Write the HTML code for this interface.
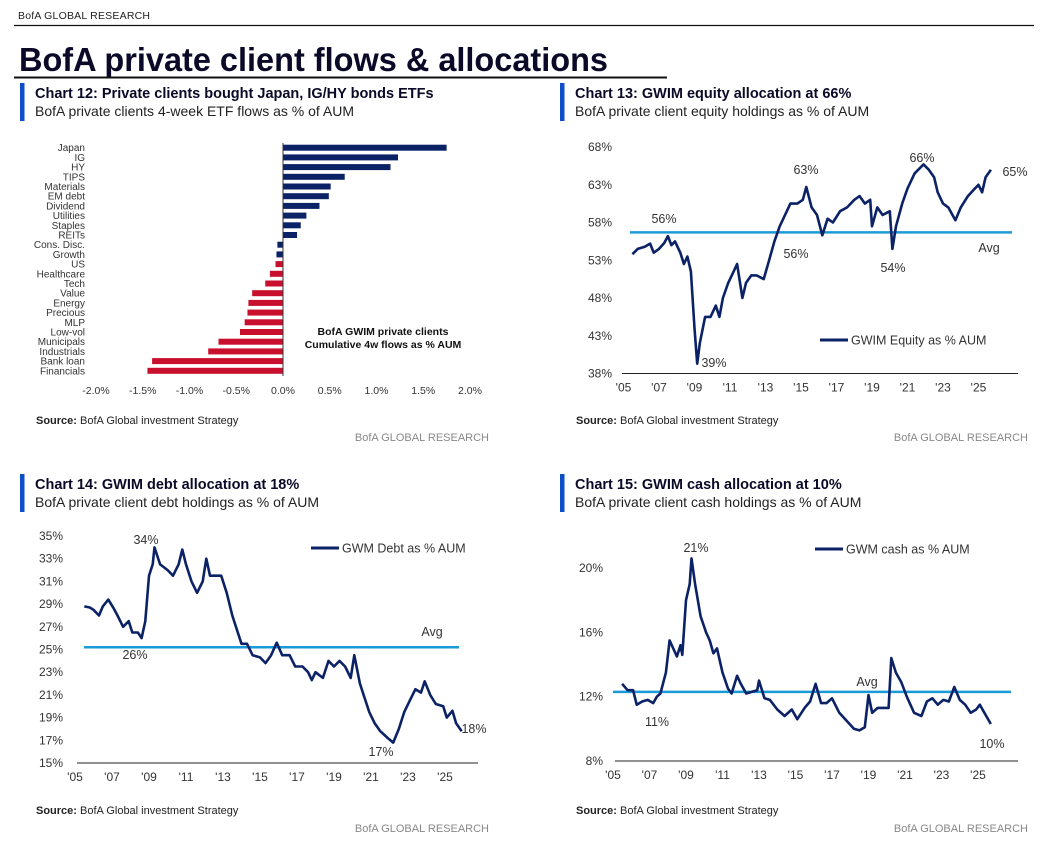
<!DOCTYPE html>
<html><head><meta charset="utf-8"><style>
body{margin:0;background:#fff;width:1048px;height:841px;overflow:hidden}
svg{display:block;font-family:"Liberation Sans",sans-serif}
</style></head><body>
<svg id="page" width="1048" height="841" viewBox="0 0 1048 841">
<text x="18" y="19" font-size="10.5" fill="#222" font-family="Liberation Sans,sans-serif" textLength="132">BofA GLOBAL RESEARCH</text>
<line x1="14" y1="25.5" x2="1034" y2="25.5" stroke="#111" stroke-width="1.2"/>
<text x="19" y="71" font-size="33" font-weight="bold" fill="#0a0a28" textLength="589" lengthAdjust="spacingAndGlyphs">BofA private client flows &amp; allocations</text>
<line x1="14" y1="77.5" x2="667" y2="77.5" stroke="#111" stroke-width="2"/>
<g id="charts"></g>
</svg>
<script>
// ---------- Chart 12 data ----------
const barCategories = ["Japan","IG","HY","TIPS","Materials","EM debt","Dividend","Utilities","Staples","REITs","Cons. Disc.","Growth","US","Healthcare","Tech","Value","Energy","Precious","MLP","Low-vol","Municipals","Industrials","Bank loan","Financials"];
const barValues = [1.75,1.23,1.15,0.66,0.51,0.49,0.39,0.25,0.19,0.15,-0.06,-0.07,-0.08,-0.14,-0.19,-0.33,-0.37,-0.38,-0.41,-0.46,-0.69,-0.80,-1.40,-1.45];
const barTicks = [-2.0,-1.5,-1.0,-0.5,0.0,0.5,1.0,1.5,2.0];
// ---------- Chart 13 data ----------
const eqYears = [2005.5,2005.8,2006.2,2006.5,2006.7,2007.0,2007.3,2007.5,2007.7,2007.9,2008.2,2008.4,2008.6,2008.8,2009.0,2009.15,2009.3,2009.6,2009.9,2010.2,2010.4,2010.6,2010.9,2011.2,2011.4,2011.7,2011.9,2012.2,2012.5,2012.9,2013.2,2013.5,2013.8,2014.0,2014.4,2014.8,2015.1,2015.3,2015.6,2015.9,2016.2,2016.5,2016.8,2017.2,2017.6,2018.0,2018.3,2018.6,2018.9,2019.0,2019.3,2019.6,2020.0,2020.15,2020.35,2020.7,2021.0,2021.4,2021.9,2022.2,2022.5,2022.7,2023.0,2023.3,2023.7,2024.0,2024.4,2024.8,2025.0,2025.2,2025.4,2025.7];
const eqValues = [53.8,54.5,54.8,55.2,54,54.5,55.3,56.2,55,55.5,54,52.5,53.5,51.5,44,39.3,42,45.5,45.5,47,45.5,48,50,51.5,52.5,48,50,51,51,50.5,53,55.5,57.5,58.5,60.5,60.5,61,62.7,60,59,56.3,58.5,58,59.5,60,61,61.5,60.5,61,57.5,60,59,59.5,54.5,57.5,60.5,62.5,64.5,65.7,65,64,62,60.5,60,58.3,60,61.5,62.5,63,62,64,65];
const eqTicks = [38,43,48,53,58,63,68];
const eqAvg = 56.7;
// ---------- Chart 14 data ----------
const debtYears = [2005.5,2005.8,2006.0,2006.3,2006.5,2006.8,2007.1,2007.3,2007.6,2007.9,2008.1,2008.4,2008.6,2008.8,2009.0,2009.2,2009.3,2009.6,2010.0,2010.3,2010.6,2010.8,2011.0,2011.3,2011.6,2011.9,2012.1,2012.3,2012.6,2012.9,2013.2,2013.5,2013.8,2014.0,2014.3,2014.6,2015.0,2015.3,2015.6,2015.9,2016.2,2016.6,2016.9,2017.3,2017.6,2017.8,2018.0,2018.4,2018.7,2019.0,2019.3,2019.6,2019.9,2020.1,2020.4,2020.6,2020.9,2021.2,2021.5,2021.9,2022.2,2022.5,2022.8,2023.1,2023.4,2023.7,2023.9,2024.2,2024.5,2024.9,2025.1,2025.4,2025.6,2025.9];
const debtValues = [28.8,28.7,28.5,28.0,28.8,29.4,28.6,28,27,27.5,26.5,26.5,26,27.5,31.5,32.5,34,32.5,32,31.5,32.5,33.8,32.5,31,30,31,33,31.5,31.5,31.5,30,28,26.5,25.5,25.5,24.5,24.3,23.8,24.5,25.6,24.5,24.5,23.5,23.5,23,22.3,23,22.5,24,23.5,24,23.5,22.5,24.5,22,21,19.5,18.5,17.8,17.2,16.8,18,19.5,20.5,21.5,21.2,22.2,21,20.2,20,19,19.6,18.5,17.8];
const debtTicks = [15,17,19,21,23,25,27,29,31,33,35];
const debtAvg = 25.2;
// ---------- Chart 15 data ----------
const cashYears = [2005.5,2005.8,2006.1,2006.3,2006.6,2006.9,2007.2,2007.4,2007.6,2007.9,2008.1,2008.3,2008.5,2008.7,2008.8,2009.0,2009.2,2009.3,2009.5,2009.8,2010.1,2010.3,2010.5,2010.7,2011.0,2011.3,2011.5,2011.8,2012.0,2012.3,2012.6,2012.9,2013.0,2013.3,2013.6,2014.0,2014.4,2014.8,2015.1,2015.5,2015.8,2016.1,2016.4,2016.7,2017.0,2017.4,2017.8,2018.2,2018.5,2018.8,2019.0,2019.2,2019.5,2019.9,2020.1,2020.25,2020.5,2020.8,2021.1,2021.5,2021.9,2022.2,2022.5,2022.8,2023.1,2023.4,2023.7,2024.0,2024.3,2024.6,2024.9,2025.1,2025.4,2025.7];
const cashValues = [12.8,12.4,12.4,11.5,11.7,11.8,11.6,12,12.2,13.5,15.5,15,14.5,15.2,14.6,18,19,20.6,19,17,16,15.5,14.7,15,13.5,12.5,12.2,13.3,12.8,12.2,12.3,12.4,13.0,11.9,11.8,11.2,10.8,11.2,10.6,11.3,11.7,12.8,11.6,11.6,11.9,11.0,10.5,10.0,9.9,10.1,12.1,11.0,11.3,11.3,11.3,14.4,13.5,12.9,12.0,11.0,10.8,11.7,11.9,11.5,11.8,11.7,12.6,11.8,11.5,11.0,11.2,11.5,10.9,10.3];
const cashTicks = [8,12,16,20];
const cashAvg = 12.3;
const yearTicks = ["'05","'07","'09","'11","'13","'15","'17","'19","'21","'23","'25"];

const NS="http://www.w3.org/2000/svg";
const root=document.getElementById('charts');
const NAVY="#0b2266", RED="#c8102e", SKY="#1a9ad6";
function mk(tag,attrs,parent,txt){const e=document.createElementNS(NS,tag);for(const k in attrs)e.setAttribute(k,attrs[k]);if(txt!==undefined)e.textContent=txt;(parent||root).appendChild(e);return e;}

function header(x,y,title,sub,key){
  const g=mk('g',{});
  
  
  const b=mk('rect',{x:x,y:y,width:4.5,height:38,fill:"#0e4fc7"},g);
  
  
  const t=mk('text',{x:x+15,y:y+15,'font-size':14.5,'font-weight':'bold',fill:'#0a0a28'},g,title);
  
  
  const s=mk('text',{x:x+15,y:y+33,'font-size':14,fill:'#222'},g,sub);
  
  
}
function footer(x,y,rx,ry,key){
  const s=mk('text',{x:x,y:y,'font-size':11,fill:'#222'});
  
  
  mk('tspan',{'font-weight':'bold'},s,'Source:');
  mk('tspan',{},s,' BofA Global investment Strategy');
  const r=mk('text',{x:rx,y:ry,'font-size':11,fill:'#888','text-anchor':'end'},undefined,'BofA GLOBAL RESEARCH');
  
  
}
function label(x,y,t,name,anchor){
  const e=mk('text',{x:x,y:y,'font-size':12.5,fill:'#333','text-anchor':anchor||'middle'},undefined,t);
  
  
}

// ----- Chart 12 -----
header(20,83,"Chart 12: Private clients bought Japan, IG/HY bonds ETFs","BofA private clients 4-week ETF flows as % of AUM","chart12");
const bx=v=>283+v*93.5, by=i=>147.7+i*9.7;
const g12=mk('g',{});


barCategories.forEach((c,i)=>{
  const v=barValues[i];
  const r=mk('rect',{x:Math.min(bx(0),bx(v)),y:by(i)-3,width:Math.abs(bx(v)-bx(0)),height:6,fill:i<12?NAVY:RED},g12);
  
  
  const t=mk('text',{x:85,y:by(i)+3.5,'font-size':10,fill:'#333','text-anchor':'end'},g12,c);
  
  
});
const z=mk('line',{x1:bx(0),x2:bx(0),y1:143,y2:376,stroke:'#333','stroke-width':1});


barTicks.forEach(v=>{
  const t=mk('text',{x:bx(v),y:394,'font-size':10.5,fill:'#333','text-anchor':'middle'},undefined,v.toFixed(1)+'%');
  
  
});
const ann=mk('text',{x:383,y:335,'font-size':10.5,'font-weight':'bold',fill:'#111','text-anchor':'middle'},undefined,'BofA GWIM private clients');


const ann2=mk('text',{x:383,y:348,'font-size':10.5,'font-weight':'bold',fill:'#111','text-anchor':'middle'},undefined,'Cumulative 4w flows as % AUM');


footer(36,424,489,441,'chart12');

// ----- line chart helper -----
function lineChart(o){
  const X=yr=>o.x05+(yr-2005)*o.pxYr, Y=v=>o.yBot-(v-o.vMin)*o.pxV;
  const g=mk('g',{});
  
  
  o.ticks.forEach(v=>{
    const t=mk('text',{x:o.yLabX,y:Y(v)+4,'font-size':12,fill:'#333','text-anchor':'end'},g,v+'%');
    
    
  });
  yearTicks.forEach((t,i)=>{
    const e=mk('text',{x:X(2005+2*i),y:o.yBot+18,'font-size':12,fill:'#333','text-anchor':'middle'},g,t);
    
    
  });
  const ax=mk('line',{x1:o.axL,x2:o.axR,y1:o.yBot,y2:o.yBot,stroke:'#222','stroke-width':1},g);
  
  
  const av=mk('line',{x1:o.avL,x2:o.avR,y1:Y(o.avg),y2:Y(o.avg),stroke:SKY,'stroke-width':2.5},g);
  
  
  const d=o.years.map((yr,i)=>(i?'L':'M')+X(yr).toFixed(1)+','+Y(o.vals[i]).toFixed(1)).join('');
  const p=mk('path',{d:d,fill:'none',stroke:NAVY,'stroke-width':2.6,'stroke-linejoin':'round'},g);
  
  
  const lg=mk('line',{x1:o.lg[0],x2:o.lg[0]+28,y1:o.lg[1],y2:o.lg[1],stroke:NAVY,'stroke-width':3},g);
  
  
  const lt=mk('text',{x:o.lg[0]+31,y:o.lg[1]+4.5,'font-size':12.5,fill:'#333'},g,o.lgText);
  
  
}

// ----- Chart 13 -----
header(560,83,"Chart 13: GWIM equity allocation at 66%","BofA private client equity holdings as % of AUM","chart13");
lineChart({key:'chart13',x05:623.5,pxYr:17.75,yBot:373.5,vMin:38,pxV:7.55,ticks:eqTicks,yLabX:612,axL:622,axR:1018,avL:630,avR:1012,avg:eqAvg,years:eqYears,vals:eqValues,lg:[820,340],lgText:'GWIM Equity as % AUM'});
label(664,223,'56%','label-56-2007');label(806,174,'63%','label-63-2015');label(922,162,'66%','label-66-2021');
label(1015,176,'65%','label-65-latest');label(796,258,'56%','label-56-2016');label(893,272,'54%','label-54-2020');
label(989,252,'Avg','avg-label');label(714,367,'39%','label-39-2009');
footer(576,424,1028,441,'chart13');

// ----- Chart 14 -----
header(20,474,"Chart 14: GWIM debt allocation at 18%","BofA private client debt holdings as % of AUM","chart14");
lineChart({key:'chart14',x05:75,pxYr:18.5,yBot:763,vMin:15,pxV:11.35,ticks:debtTicks,yLabX:63,axL:77,axR:478,avL:84,avR:459,avg:debtAvg,years:debtYears,vals:debtValues,lg:[311,548],lgText:'GWM Debt as % AUM'});
label(146,544,'34%','label-34-2009');label(135,659,'26%','label-26-2008');label(432,636,'Avg','avg-label');
label(474,733,'18%','label-18-latest');label(381,756,'17%','label-17-2022');
footer(36,814,489,832,'chart14');

// ----- Chart 15 -----
header(560,474,"Chart 15: GWIM cash allocation at 10%","BofA private client cash holdings as % of AUM","chart15");
lineChart({key:'chart15',x05:613,pxYr:18.25,yBot:761,vMin:8,pxV:16.08,ticks:cashTicks,yLabX:603,axL:615,axR:1018,avL:613,avR:1011,avg:cashAvg,years:cashYears,vals:cashValues,lg:[815,549],lgText:'GWM cash as % AUM'});
label(696,552,'21%','label-21-2009');label(657,726,'11%','label-11-2006');label(867,686,'Avg','avg-label');
label(992,748,'10%','label-10-latest');
footer(576,814,1028,832,'chart15');
</script>
</body></html>
